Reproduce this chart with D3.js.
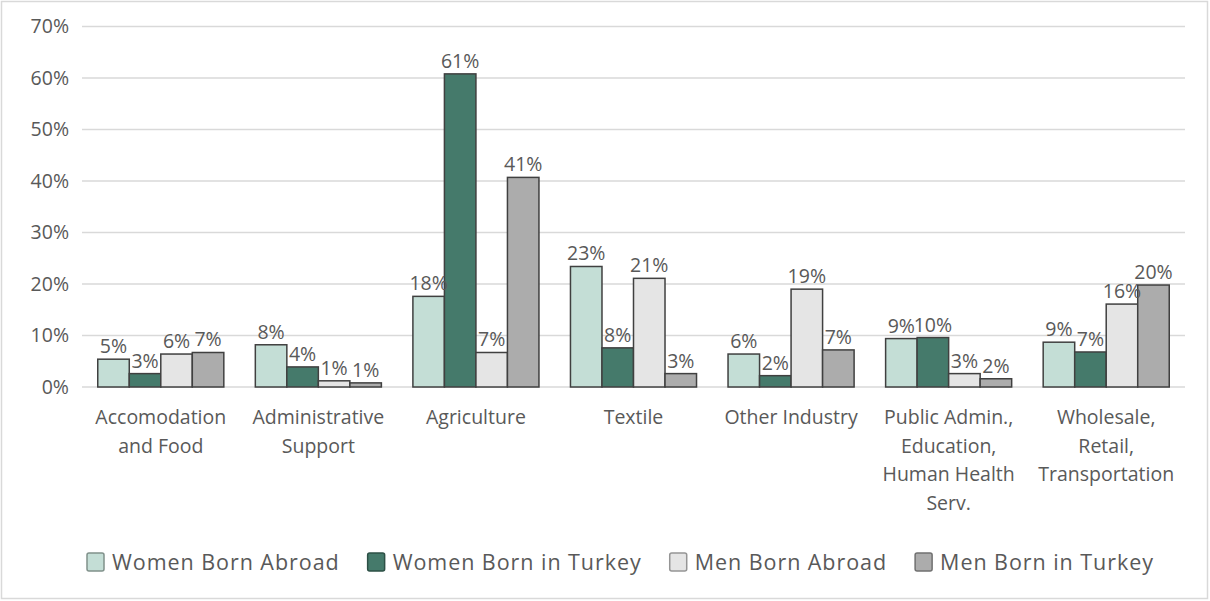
<!DOCTYPE html>
<html>
<head>
<meta charset="utf-8">
<script src="https://cdn.jsdelivr.net/npm/d3@7"></script>
<style>
  html, body { margin: 0; padding: 0; background: #fff; }
  svg { display: block; }
  text { font-family: "Open Sans", "Noto Sans", sans-serif; fill: #595959; }
</style>
</head>
<body>
<svg id="chart" width="1210" height="601"></svg>
<script>
const categories = [
  ["Accomodation", "and Food"],
  ["Administrative", "Support"],
  ["Agriculture"],
  ["Textile"],
  ["Other Industry"],
  ["Public Admin.,", "Education,", "Human Health", "Serv."],
  ["Wholesale,", "Retail,", "Transportation"]
];
const seriesNames = ["Women Born Abroad", "Women Born in Turkey", "Men Born Abroad", "Men Born in Turkey"];
const womenBornAbroad = [0.054, 0.082, 0.176, 0.234, 0.064, 0.094, 0.087];
const womenBornTurkey = [0.026, 0.039, 0.608, 0.076, 0.022, 0.096, 0.068];
const menBornAbroad   = [0.064, 0.012, 0.067, 0.211, 0.190, 0.026, 0.161];
const menBornTurkey   = [0.067, 0.008, 0.407, 0.026, 0.072, 0.016, 0.198];
const yTicks = [0, 0.1, 0.2, 0.3, 0.4, 0.5, 0.6, 0.7];
const colors = ["#c4ded6", "#457a6b", "#e5e5e5", "#acacac"];

(function () {
const series = [womenBornAbroad, womenBornTurkey, menBornAbroad, menBornTurkey];
const svg = d3.select("#chart");
const W = 1210, H = 601;
const mLeft = 82, mRight = 1185, mTop = 26.5, mBottom = 387;
const FS = 19.5;

svg.append("rect").attr("x", 1.5).attr("y", 1.5).attr("width", W - 4).attr("height", H - 4)
  .attr("fill", "#fff").attr("stroke", "#d9d9d9").attr("stroke-width", 1.5);

const x = d3.scaleBand().domain(d3.range(categories.length)).range([mLeft, mRight])
  .paddingInner(0.2).paddingOuter(0.1);
const xs = d3.scaleBand().domain(d3.range(series.length)).range([0, x.bandwidth()]);
const y = d3.scaleLinear().domain([0, 0.7]).range([mBottom, mTop]);

svg.append("g").selectAll("line").data(yTicks).join("line")
  .attr("x1", mLeft).attr("x2", mRight)
  .attr("y1", d => y(d)).attr("y2", d => y(d))
  .attr("stroke", "#d9d9d9").attr("stroke-width", 1.5);

const fmt = d3.format(".0%");
svg.append("g").selectAll("text").data(yTicks).join("text")
  .attr("x", 69).attr("y", d => y(d)).attr("dy", "0.35em")
  .attr("text-anchor", "end").attr("font-size", FS)
  .text(d => fmt(d));

const groups = svg.append("g").selectAll("g").data(categories).join("g")
  .attr("transform", (d, i) => `translate(${x(i)},0)`);
groups.each(function(cat, ci) {
  const g = d3.select(this);
  series.forEach((s, si) => {
    g.append("rect")
      .attr("x", xs(si)).attr("width", xs.bandwidth())
      .attr("y", y(s[ci])).attr("height", y(0) - y(s[ci]))
      .attr("fill", colors[si]).attr("stroke", "#404040").attr("stroke-width", 1.5);
  });
  series.forEach((s, si) => {
    g.append("text")
      .attr("x", xs(si) + xs.bandwidth() / 2).attr("y", y(s[ci]) - 6)
      .attr("text-anchor", "middle").attr("font-size", FS)
      .text(fmt(s[ci]));
  });
});

groups.each(function(cat, ci) {
  const t = d3.select(this).append("text")
    .attr("text-anchor", "middle").attr("font-size", FS);
  cat.forEach((line, li) => {
    t.append("tspan").attr("x", x.bandwidth() / 2).attr("y", 424 + li * 28.5).text(line);
  });
});

const lg = svg.append("g");
let cx = 0;
seriesNames.forEach((name, i) => {
  const it = lg.append("g");
  it.append("rect").attr("x", 0).attr("y", -9).attr("width", 17).attr("height", 18)
    .attr("rx", 2).attr("fill", colors[i])
    .attr("stroke", d3.color(colors[i]).darker(1.2)).attr("stroke-width", 1.5);
  const t = it.append("text").attr("x", 25).attr("y", 0).attr("dy", "0.35em")
    .attr("font-size", 21.5).attr("letter-spacing", 0.95).text(name);
  const w = 25 + t.node().getComputedTextLength();
  it.attr("transform", `translate(${cx},562)`);
  cx += w + 28;
});
lg.attr("transform", `translate(87,0)`);
})();
</script>
</body>
</html>
